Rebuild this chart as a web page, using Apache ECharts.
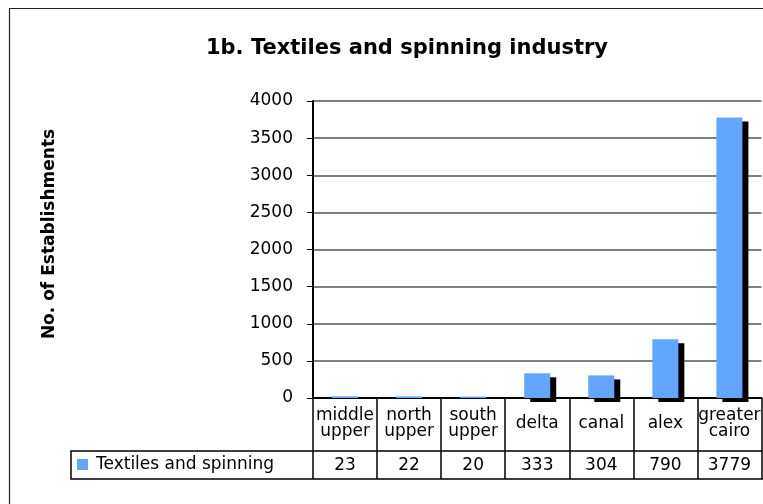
<!DOCTYPE html>
<html>
<head>
<meta charset="utf-8">
<script src="https://cdn.jsdelivr.net/npm/echarts@6/dist/echarts.min.js"></script>
<style>
  html, body { margin: 0; padding: 0; background: #fff; }
  #chart { width: 763px; height: 504px; }
</style>
</head>
<body>
<div id="chart"></div>
<script>
// Regions (two-line names use a line break) and establishment counts
const categories = ['middle\nupper', 'north\nupper', 'south\nupper', 'delta', 'canal', 'alex', 'greater\ncairo'];
const seriesName = 'Textiles and spinning';
const establishments = [23, 22, 20, 333, 304, 790, 3779];
const yTicks = { min: 0, max: 4000, interval: 500 };

const FONT = 'DejaVu Sans';
const BAR_BLUE = '#62A6FF';

const chart = echarts.init(document.getElementById('chart'), null, { renderer: 'canvas' });

// Category names in the first table row, vertically centred in the cell
function categoryLabel(value) {
  return value.indexOf('\n') >= 0
    ? value.split('\n').map(s => '{two|' + s + '}').join('\n')
    : '{one|' + value + '}';
}

// Drop shadow behind each bar; hairline bars are too short to cast one
const barData = establishments.map(v => ({
  value: v,
  itemStyle: v < 100 ? { shadowColor: 'rgba(0,0,0,0)' } : {}
}));

chart.setOption({
  backgroundColor: '#fff',
  animation: false,
  title: {
    text: '1b. Textiles and spinning industry',
    left: 402,
    top: 33,
    textAlign: 'center',
    textStyle: { fontFamily: FONT, fontWeight: 'bold', fontSize: 21, color: '#000' }
  },
  legend: {
    data: [seriesName],
    icon: 'rect',
    itemWidth: 11,
    itemHeight: 11,
    left: 77,
    top: 456,
    padding: 0,
    textStyle: { fontFamily: FONT, fontSize: 17, color: '#000', padding: [0, 0, 0, 3] }
  },
  grid: { left: 313, top: 101, width: 457, height: 297, containLabel: false },
  xAxis: [
    {
      type: 'category',
      data: categories,
      position: 'bottom',
      boundaryGap: true,
      axisLine: { show: true, lineStyle: { color: '#000', width: 2 } },
      axisTick: { show: true, length: 81, lineStyle: { color: '#000', width: 1.5 } },
      axisLabel: {
        interval: 0,
        margin: 10,
        formatter: categoryLabel,
        rich: {
          two: { fontFamily: FONT, fontSize: 17, lineHeight: 16, color: '#000' },
          one: { fontFamily: FONT, fontSize: 17, lineHeight: 32, color: '#000' }
        }
      },
      splitLine: { show: false }
    },
    {
      // second table row: the values
      type: 'category',
      data: categories,
      position: 'bottom',
      offset: 53,
      boundaryGap: true,
      axisLine: { show: false },
      axisTick: { show: false },
      axisLabel: {
        interval: 0,
        margin: 6,
        fontFamily: FONT,
        fontSize: 17,
        color: '#000',
        formatter: (v, i) => String(establishments[i])
      },
      splitLine: { show: false }
    }
  ],
  yAxis: {
    type: 'value',
    min: yTicks.min,
    max: yTicks.max,
    interval: yTicks.interval,
    axisLine: { show: true, lineStyle: { color: '#000', width: 2 } },
    axisTick: { show: true, length: 6, lineStyle: { color: '#000', width: 1 } },
    axisLabel: {
      margin: 20,
      fontFamily: FONT,
      fontSize: 17,
      color: '#000',
      formatter: v => String(v)
    },
    splitLine: { show: true, lineStyle: { color: '#555', width: 1.5 } }
  },
  series: [
    {
      name: seriesName,
      type: 'bar',
      data: barData,
      barWidth: 26,
      itemStyle: {
        color: BAR_BLUE,
        shadowColor: '#000',
        shadowBlur: 0,
        shadowOffsetX: 6,
        shadowOffsetY: 4
      }
    }
  ],
  graphic: [
    {
      // chart frame
      type: 'rect',
      silent: true,
      z: -1,
      shape: { x: 9.5, y: 8.5, width: 900, height: 600 },
      style: { fill: null, stroke: '#222', lineWidth: 1.2 }
    },
    {
      // outline of the second table row, including the legend cell
      type: 'rect',
      silent: true,
      shape: { x: 71, y: 451, width: 800, height: 28 },
      style: { fill: null, stroke: '#000', lineWidth: 1.5 }
    },
    {
      type: 'text',
      silent: true,
      x: 50,
      y: 234,
      rotation: Math.PI / 2,
      style: {
        text: 'No. of Establishments',
        font: 'bold 17px "DejaVu Sans"',
        fill: '#000',
        align: 'center',
        verticalAlign: 'middle'
      }
    }
  ]
});
</script>
</body>
</html>
